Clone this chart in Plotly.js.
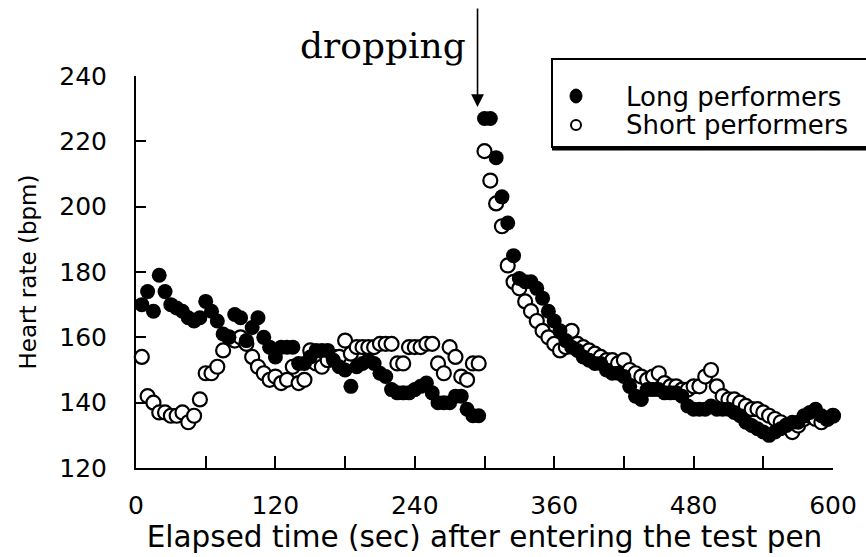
<!DOCTYPE html>
<html>
<head>
<meta charset="utf-8">
<script src="https://cdn.plot.ly/plotly-3.0.1.min.js"></script>
<style>html,body{margin:0;padding:0;background:#fff;}#chart{width:866px;height:557px;}</style>
</head>
<body>
<div id="chart"></div>
<script>
// Elapsed time (sec) after entering the test pen
var timeSec = [5,10,15,20,25,30,35,40,45,50,55,60,65,70,75,80,85,90,95,100,
  105,110,115,120,125,130,135,140,145,150,155,160,165,170,175,180,185,190,195,200,
  205,210,215,220,225,230,235,240,245,250,255,260,265,270,275,280,285,290,295,
  300,305,310,315,320,325,330,335,340,345,350,355,360,365,370,375,380,385,390,395,400,
  405,410,415,420,425,430,435,440,445,450,455,460,465,470,475,480,485,490,495,500,
  505,510,515,520,525,530,535,540,545,550,555,560,565,570,575,580,585,590,595,600];

// Heart rate (bpm) - Long performers (filled)
var longHR = [170,174,168,179,174,170,169,168,166,165,166,171,168,165,161,160,167,166,159,163,
  166,160,157,154,157,157,157,152,152,154,156,156,156,153,151,150,145,151,152,153,
  152,149,148,144,143,143,143,144,145,146,143,140,140,140,142,142,138,136,136,
  227,227,215,203,195,185,178,177,177,175,172,168,165,162,159,157,156,154,153,152,152,
  150,149,149,148,145,142,141,144,144,144,143,143,143,142,139,138,138,138,139,138,
  138,138,137,136,134,133,132,131,130,131,132,133,134,134,136,137,138,136,135,136];

// Heart rate (bpm) - Short performers (open)
var shortHR = [154,142,140,137,137,136,136,137,134,136,141,149,149,151,156,160,159,160,158,154,
  151,149,147,148,146,147,151,146,147,156,152,151,153,154,154,159,155,157,157,157,
  157,158,158,158,152,152,157,157,157,158,158,152,149,157,154,148,147,152,152,
  217,208,201,194,182,177,175,171,168,165,162,160,158,156,157,162,158,157,156,155,154,
  153,153,152,153,150,149,148,147,148,149,146,145,145,144,144,145,145,148,150,145,
  142,141,141,140,139,138,138,137,136,135,134,133,131,133,135,136,135,134,135,136];

var xTickVals = [0,60,120,180,240,300,360,420,480,540,600];
var xTickText = ['0','','120','','240','','360','','480','','600'];
var yTickVals = [120,140,160,180,200,220,240];

var seriesNames = ['Long performers','Short performers'];

var traces = [
  {
    x: timeSec, y: shortHR, type: 'scatter', mode: 'markers', name: seriesNames[1],
    marker: {symbol: 'circle', size: 14, color: '#ffffff', line: {color: '#000000', width: 2.2}},
    cliponaxis: false, showlegend: false
  },
  {
    x: timeSec, y: longHR, type: 'scatter', mode: 'markers', name: seriesNames[0],
    marker: {symbol: 'circle', size: 15, color: '#000000', line: {color: '#000000', width: 0}},
    cliponaxis: false, showlegend: false
  }
];

var pxX = function(p){ return (p - 136) / 697; };
var pxY = function(p){ return (468 - p) / 392; };

var legendFont = {size: 26, family: 'DejaVu Sans, sans-serif', color: '#000'};

var layout = {
  width: 866, height: 557,
  margin: {l: 136, r: 33, t: 76, b: 89},
  paper_bgcolor: '#ffffff', plot_bgcolor: '#ffffff',
  font: {family: 'DejaVu Sans, sans-serif', color: '#000000'},
  showlegend: false,
  xaxis: {
    range: [0, 600], tickmode: 'array', tickvals: xTickVals, ticktext: xTickText,
    ticks: 'inside', ticklen: 12, tickwidth: 2, tickcolor: '#000',
    showline: true, linecolor: '#000', linewidth: 2, mirror: false,
    showgrid: false, zeroline: false,
    tickfont: {size: 25, family: 'DejaVu Sans, sans-serif'},
    ticklabelstandoff: 14,
    title: {text: 'Elapsed time (sec) after entering the test pen', font: {size: 29.5, family: 'DejaVu Sans, sans-serif'}, standoff: 2}
  },
  yaxis: {
    range: [120, 240], tickmode: 'array', tickvals: yTickVals,
    ticks: 'inside', ticklen: 10, tickwidth: 2, tickcolor: '#000',
    showline: true, linecolor: '#000', linewidth: 2, mirror: false,
    showgrid: false, zeroline: false,
    tickfont: {size: 25, family: 'DejaVu Sans, sans-serif'},
    ticklabelstandoff: 22,
    title: {text: 'Heart rate (bpm)', font: {size: 23, family: 'DejaVu Sans, sans-serif'}, standoff: 16}
  },
  shapes: [
    {type: 'rect', xref: 'paper', yref: 'paper', x0: pxX(552), x1: pxX(872), y0: pxY(147), y1: pxY(59),
     line: {color: '#000', width: 2}, fillcolor: '#ffffff', layer: 'above'},
    {type: 'line', xref: 'paper', yref: 'paper', x0: pxX(552), x1: pxX(872), y0: pxY(149), y1: pxY(149),
     line: {color: '#000', width: 3}},
    {type: 'circle', xref: 'paper', yref: 'paper', xsizemode: 'pixel', ysizemode: 'pixel',
     xanchor: pxX(576), yanchor: pxY(96), x0: -6, x1: 6, y0: -7, y1: 7,
     fillcolor: '#000', line: {color: '#000', width: 1}},
    {type: 'circle', xref: 'paper', yref: 'paper', xsizemode: 'pixel', ysizemode: 'pixel',
     xanchor: pxX(576), yanchor: pxY(125), x0: -5, x1: 5, y0: -5, y1: 5,
     fillcolor: '#fff', line: {color: '#000', width: 2}}
  ],
  annotations: [
    {x: 294, y: 230.5, xref: 'x', yref: 'y', text: '', showarrow: true,
     ax: 0, ay: -100, arrowhead: 2, arrowsize: 1.6, arrowwidth: 1.6, arrowcolor: '#000'},
    {x: 294, y: pxY(45), xref: 'x', yref: 'paper', text: 'dropping', showarrow: false,
     xanchor: 'right', yanchor: 'middle', xshift: -10,
     font: {family: 'DejaVu Serif, serif', size: 36, color: '#000'}},
    {x: pxX(624), y: pxY(97), xref: 'paper', yref: 'paper', text: seriesNames[0], showarrow: false,
     xanchor: 'left', yanchor: 'middle', font: legendFont},
    {x: pxX(624), y: pxY(125), xref: 'paper', yref: 'paper', text: seriesNames[1], showarrow: false,
     xanchor: 'left', yanchor: 'middle', font: legendFont}
  ]
};

Plotly.newPlot('chart', traces, layout, {displayModeBar: false, staticPlot: true});
</script>
</body>
</html>
